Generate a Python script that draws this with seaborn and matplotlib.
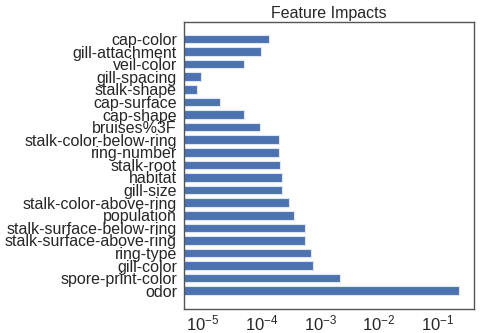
import matplotlib
matplotlib.use("Agg")
import matplotlib.pyplot as plt
import seaborn as sns
import pandas as pd

features = [
    "cap-color", "gill-attachment", "veil-color", "gill-spacing", "stalk-shape",
    "cap-surface", "cap-shape", "bruises%3F", "stalk-color-below-ring",
    "ring-number", "stalk-root", "habitat", "gill-size", "stalk-color-above-ring",
    "population", "stalk-surface-below-ring", "stalk-surface-above-ring",
    "ring-type", "gill-color", "spore-print-color", "odor",
]
impacts = [
    1.33e-4, 9.9e-5, 5.0e-5, 9.5e-6, 7.9e-6,
    2.0e-5, 5.1e-5, 9.3e-5, 2.0e-4,
    2.0e-4, 2.05e-4, 2.2e-4, 2.24e-4, 2.95e-4,
    3.6e-4, 5.4e-4, 5.5e-4,
    6.9e-4, 7.5e-4, 2.2e-3, 0.23,
]

df = pd.DataFrame({"feature": features, "impact": impacts})

sns.set_theme(style="white")
plt.rcParams["font.family"] = ["Liberation Sans", "DejaVu Sans"]
plt.rcParams["mathtext.fontset"] = "custom"
plt.rcParams["mathtext.rm"] = "Liberation Sans"
plt.rcParams["mathtext.it"] = "Liberation Sans:italic"
plt.rcParams["mathtext.bf"] = "Liberation Sans:bold"

fig = plt.figure(figsize=(4.8, 3.33), dpi=100)
ax = fig.add_axes([0.383, 0.072, 0.6045, 0.862])

sns.barplot(data=df, x="impact", y="feature", order=features, orient="h",
            color="#4C72B0", saturation=1, width=0.68, edgecolor="#dde6f2",
            linewidth=0.8, ax=ax)
ax.set_xscale("log")
ax.set_xlim(4.8e-6, 0.41)
ax.set_ylim(20 + 1.45, -1.35)
ax.set_xlabel("")
ax.set_ylabel("")
ax.set_title("Feature Impacts", fontsize=11.5, pad=3)
ax.tick_params(axis="y", labelsize=11.5, length=0, pad=5)
ax.tick_params(axis="x", labelsize=12, length=0, pad=3)
for s in ax.spines.values():
    s.set_color("#555555")
    s.set_linewidth(1.0)

fig.savefig("out.png", dpi=100)
